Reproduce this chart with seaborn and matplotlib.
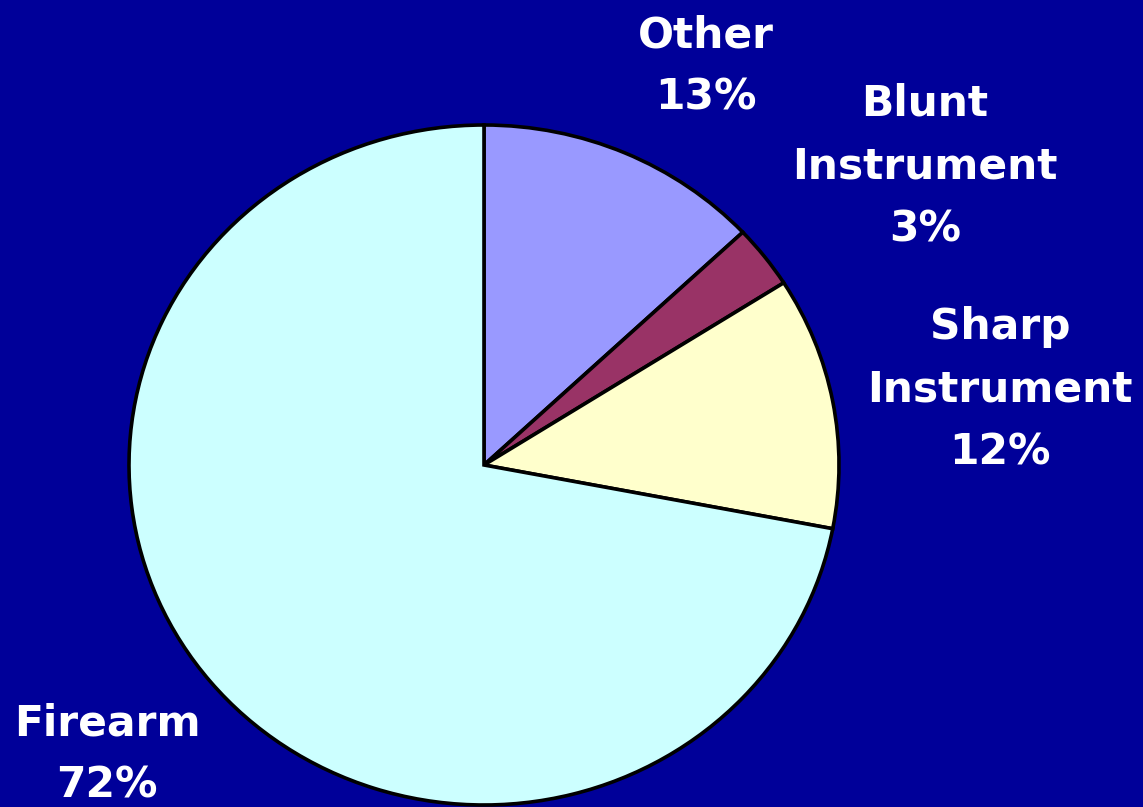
import matplotlib
matplotlib.use("Agg")
import matplotlib.pyplot as plt
import seaborn as sns

categories = ["Other", "Blunt\nInstrument", "Sharp\nInstrument", "Firearm"]
values = [13, 3, 12, 72]
colors = ["#9999FF", "#993366", "#FFFFCC", "#CCFFFF"]

sns.set_theme(style="white")
plt.rcParams["font.family"] = ["DejaVu Sans"]

BG = "#000099"
fig = plt.figure(figsize=(11.43, 8.07), dpi=100, facecolor=BG)
W, H = 1143, 807
left, right, top, bottom = 129, 839, 125, 805
ax = fig.add_axes([left / W, (H - bottom) / H, (right - left) / W, (bottom - top) / H])
ax.set_facecolor(BG)

wedges, _ = ax.pie(values, colors=colors, startangle=90, counterclock=False,
                   wedgeprops=dict(edgecolor="black", linewidth=2.6))
for w in wedges:
    w.set_clip_on(False)
ax.set_aspect("auto")
ax.set_xlim(-1, 1)
ax.set_ylim(-1, 1)
ax.axis("off")

# label positions (pixel centre x, top y)
label_pos = [(706, 14), (925, 83), (1000, 306), (107, 702)]
for name, v, (x, y) in zip(categories, values, label_pos):
    fig.text(x / W, 1 - y / H, f"{name}\n{v}%", color="white", fontsize=30.5,
             fontweight="bold", ha="center", va="top", multialignment="center",
             linespacing=1.63)

fig.savefig("out.png", dpi=100, facecolor=BG)
